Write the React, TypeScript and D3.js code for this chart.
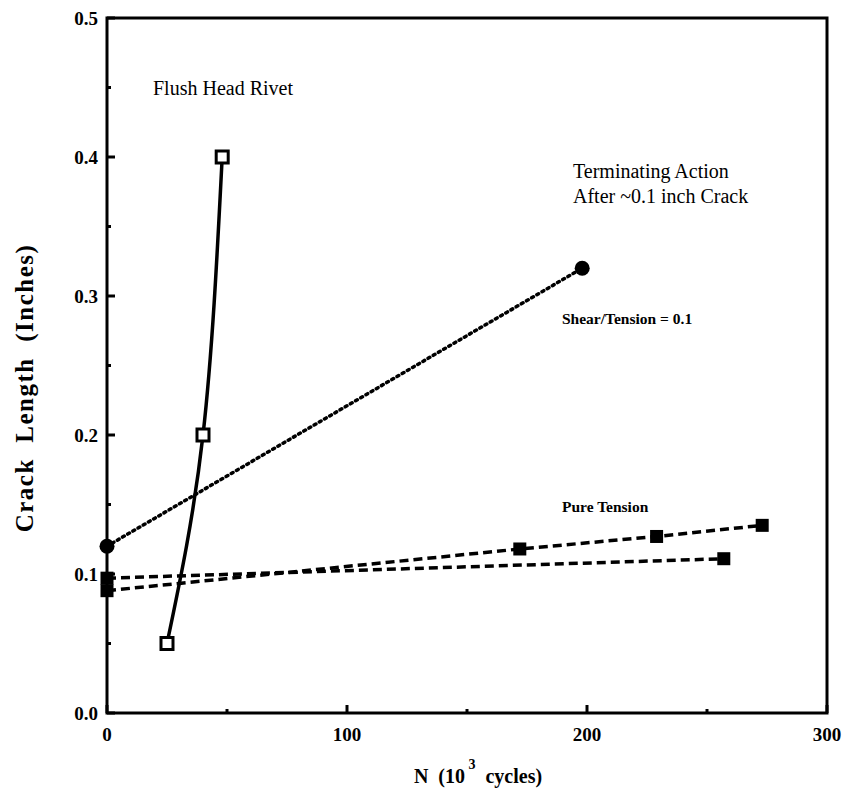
import React from "react";
import * as d3 from "d3";

// Crack length vs. cycles for a flush head rivet
const flushHeadN = [25, 40, 48];
const flushHeadA = [0.05, 0.2, 0.4];

const shearTensionN = [0, 198];
const shearTensionA = [0.12, 0.32];

const pureTension1N = [0, 172, 229, 273];
const pureTension1A = [0.088, 0.118, 0.127, 0.135];

const pureTension2N = [0, 257];
const pureTension2A = [0.097, 0.111];

const xTicks = [0, 100, 200, 300];
const xMinor = [50, 150, 250];
const yTicks = [0, 0.1, 0.2, 0.3, 0.4, 0.5];
const yMinor = [0.05, 0.15, 0.25, 0.35, 0.45];

const W = 849;
const H = 808;
const left = 107;
const right = 827;
const top = 18;
const bottom = 713;

const FONT = "'Liberation Serif', 'DejaVu Serif', serif";

export default function App() {
  const x = d3.scaleLinear().domain([0, 300]).range([left, right]);
  const y = d3.scaleLinear().domain([0, 0.5]).range([bottom, top]);

  const zip = (n: number[], a: number[]) => n.map((v, i) => [v, a[i]] as [number, number]);

  const straight = d3
    .line<[number, number]>()
    .x((d) => x(d[0]))
    .y((d) => y(d[1]));
  const curved = d3
    .line<[number, number]>()
    .x((d) => x(d[0]))
    .y((d) => y(d[1]))
    .curve(d3.curveNatural);

  const flush = zip(flushHeadN, flushHeadA);
  const shear = zip(shearTensionN, shearTensionA);
  const pt1 = zip(pureTension1N, pureTension1A);
  const pt2 = zip(pureTension2N, pureTension2A);

  const fmtY = d3.format(".1f");

  return (
    <svg
      width={W}
      height={H}
      viewBox={`0 0 ${W} ${H}`}
      style={{ position: "absolute", left: 0, top: 0, background: "#fff" }}
    >
      <rect x={0} y={0} width={W} height={H} fill="#fff" />

      {/* frame */}
      <rect
        x={left}
        y={top}
        width={right - left}
        height={bottom - top}
        fill="none"
        stroke="#000"
        strokeWidth={3}
      />

      {/* x ticks */}
      {xTicks.map((t) => (
        <g key={"xt" + t}>
          <line x1={x(t)} x2={x(t)} y1={bottom} y2={bottom - 8} stroke="#000" strokeWidth={3} />
          <text
            x={x(t)}
            y={741}
            textAnchor="middle"
            fontFamily={FONT}
            fontWeight="bold"
            fontSize={19}
          >
            {t}
          </text>
        </g>
      ))}
      {xMinor.map((t) => (
        <line key={"xm" + t} x1={x(t)} x2={x(t)} y1={bottom} y2={bottom - 4} stroke="#000" strokeWidth={3} />
      ))}

      {/* y ticks */}
      {yTicks.map((t) => (
        <g key={"yt" + t}>
          <line x1={left} x2={left + 8} y1={y(t)} y2={y(t)} stroke="#000" strokeWidth={3} />
          <text
            x={98}
            y={y(t) + 7}
            textAnchor="end"
            fontFamily={FONT}
            fontWeight="bold"
            fontSize={19}
          >
            {fmtY(t)}
          </text>
        </g>
      ))}
      {yMinor.map((t) => (
        <line key={"ym" + t} x1={left} x2={left + 4} y1={y(t)} y2={y(t)} stroke="#000" strokeWidth={3} />
      ))}

      {/* axis titles */}
      <text
        x={478}
        y={783}
        textAnchor="middle"
        fontFamily={FONT}
        fontWeight="bold"
        fontSize={20}
        xmlSpace="preserve"
      >
        <tspan>N  (10</tspan>
        <tspan dy={-14} fontSize={14}> 3</tspan>
        <tspan dy={14}>  cycles)</tspan>
      </text>
      <text
        transform={`translate(33, ${388}) rotate(-90)`}
        textAnchor="middle"
        fontFamily={FONT}
        fontWeight="bold"
        fontSize={25}
        letterSpacing={1.5}
        xmlSpace="preserve"
      >
        Crack  Length  (Inches)
      </text>

      {/* series: shear / tension */}
      <path
        d={straight(shear) ?? ""}
        fill="none"
        stroke="#000"
        strokeWidth={3.5}
        strokeDasharray="2 4"
        strokeLinecap="round"
      />
      {shear.map((d, i) => (
        <circle key={"sc" + i} cx={x(d[0])} cy={y(d[1])} r={7.5} fill="#000" />
      ))}

      {/* series: pure tension */}
      {[pt1, pt2].map((s, k) => (
        <g key={"pt" + k}>
          <path
            d={straight(s) ?? ""}
            fill="none"
            stroke="#000"
            strokeWidth={3.5}
            strokeDasharray="9 5"
          />
          {s.map((d, i) => (
            <rect
              key={i}
              x={x(d[0]) - 6.5}
              y={y(d[1]) - 6.5}
              width={13}
              height={13}
              fill="#000"
            />
          ))}
        </g>
      ))}

      {/* series: flush head rivet */}
      <path d={curved(flush) ?? ""} fill="none" stroke="#000" strokeWidth={3.5} />
      {flush.map((d, i) => (
        <rect
          key={"fh" + i}
          x={x(d[0]) - 6}
          y={y(d[1]) - 6}
          width={12}
          height={12}
          fill="#fff"
          stroke="#000"
          strokeWidth={3}
        />
      ))}

      {/* annotations */}
      <text x={153} y={95} fontFamily={FONT} fontSize={20}>
        Flush Head Rivet
      </text>
      <text x={573} y={178} fontFamily={FONT} fontSize={20}>
        Terminating Action
      </text>
      <text x={573} y={203} fontFamily={FONT} fontSize={20}>
        After ~0.1 inch Crack
      </text>
      <text x={562} y={324} fontFamily={FONT} fontWeight="bold" fontSize={15.5}>
        Shear/Tension = 0.1
      </text>
      <text x={562} y={512} fontFamily={FONT} fontWeight="bold" fontSize={15.5}>
        Pure Tension
      </text>
    </svg>
  );
}
